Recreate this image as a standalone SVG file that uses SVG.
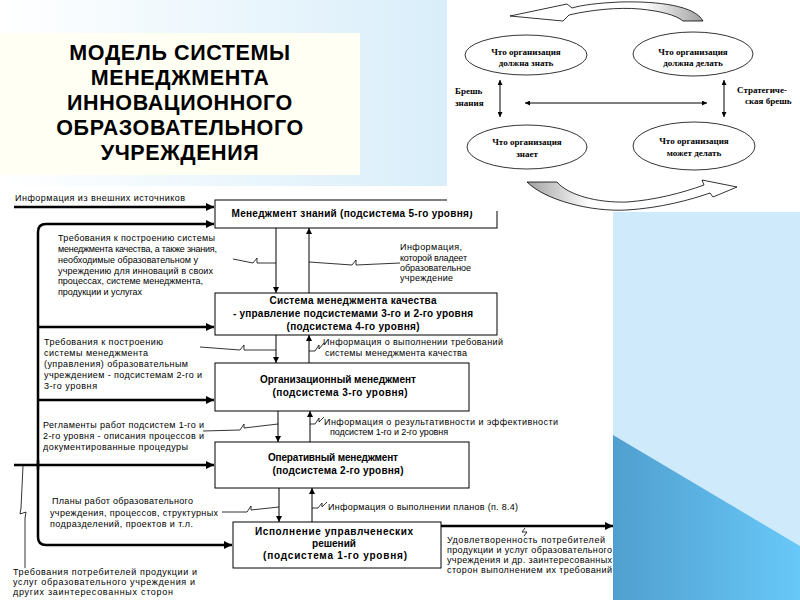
<svg xmlns="http://www.w3.org/2000/svg" width="800" height="600" viewBox="0 0 800 600">
<defs>
<linearGradient id="topbg" x1="0" y1="0" x2="1" y2="0">
<stop offset="0" stop-color="#ffffff"/><stop offset="1" stop-color="#d9eefa"/>
</linearGradient>
<linearGradient id="dark" x1="0" y1="0" x2="1" y2="0">
<stop offset="0" stop-color="#509fcf"/><stop offset="1" stop-color="#68c8f8"/>
</linearGradient>
<linearGradient id="gTop" x1="0" y1="0" x2="1" y2="0">
<stop offset="0" stop-color="#ffffff"/><stop offset="0.7" stop-color="#ffffff"/><stop offset="1" stop-color="#a0a0a0"/>
</linearGradient>
<linearGradient id="gBot" x1="0" y1="0" x2="1" y2="0">
<stop offset="0" stop-color="#a0a0a0"/><stop offset="0.3" stop-color="#ffffff"/><stop offset="1" stop-color="#ffffff"/>
</linearGradient>
<marker id="ahBig" viewBox="0 0 10 10" refX="10" refY="5" markerWidth="9" markerHeight="8" markerUnits="userSpaceOnUse" orient="auto"><path d="M0,0 L10,5 L0,10 z" fill="#000"/></marker>
<marker id="ahSm" viewBox="0 0 10 10" refX="10" refY="5" markerWidth="6" markerHeight="6" markerUnits="userSpaceOnUse" orient="auto"><path d="M0,0 L10,5 L0,10 z" fill="#000"/></marker>
<marker id="ahEl" viewBox="0 0 10 10" refX="10" refY="5" markerWidth="7" markerHeight="5" markerUnits="userSpaceOnUse" orient="auto-start-reverse"><path d="M0,0 L10,5 L0,10 z" fill="#000"/></marker>
<style>
.t{font-family:"Liberation Sans",Arial,sans-serif;font-size:9px;fill:#000}
.b{font-family:"Liberation Sans",Arial,sans-serif;font-size:10px;font-weight:bold;fill:#000;text-anchor:middle}
.ti{font-family:"Liberation Sans",Arial,sans-serif;font-size:21.5px;font-weight:bold;fill:#000;text-anchor:middle;letter-spacing:0.6px}
.s{font-family:"Liberation Serif","Times New Roman",serif;font-size:9px;font-weight:bold;fill:#000}
.sc{text-anchor:middle}
.box{fill:#fff;stroke:#000;stroke-width:1}
.thick{fill:none;stroke:#000;stroke-width:2.5;marker-end:url(#ahBig)}
.thin{fill:none;stroke:#000;stroke-width:1;marker-end:url(#ahSm)}
.zz{fill:none;stroke:#000;stroke-width:0.8}
.el{fill:#fff;stroke:#000;stroke-width:0.8}
.da{fill:none;stroke:#000;stroke-width:1;marker-start:url(#ahEl);marker-end:url(#ahEl)}
</style>
</defs>

<!-- backgrounds -->
<rect x="0" y="0" width="800" height="600" fill="#fff"/>
<rect x="0" y="0" width="447" height="186" fill="url(#topbg)"/>
<rect x="613" y="212" width="187" height="388" fill="#cfeafb"/>
<polygon points="613,435 800,546 800,600 613,600" fill="url(#dark)"/>

<!-- title -->
<g id="title">
<rect x="0" y="33" width="360" height="142" fill="#fffff3"/>
<text class="ti" x="180" y="60">МОДЕЛЬ СИСТЕМЫ</text>
<text class="ti" x="180" y="85">МЕНЕДЖМЕНТА</text>
<text class="ti" x="180" y="110">ИННОВАЦИОННОГО</text>
<text class="ti" x="180" y="135">ОБРАЗОВАТЕЛЬНОГО</text>
<text class="ti" x="180" y="160">УЧРЕЖДЕНИЯ</text>
</g>

<!-- connectors -->
<g id="connectors">
<path class="thick" d="M14,207 L214,207"/>
<path class="thick" d="M38,470 L38,232 Q38,224 46,224 L214,224"/>
<path class="thick" d="M38,327 L214,327"/>
<path class="thick" d="M38,400 L214,400"/>
<path class="thick" d="M14,465 L214,465"/>
<path class="thick" d="M38,460 L38,537 Q38,545 46,545 L232,545"/>
<path class="thick" d="M441,526 L613,526"/>
<path class="thin" d="M276,228 L276,293"/>
<path class="thin" d="M309,293 L309,228"/>
<path class="thin" d="M276,335 L276,363"/>
<path class="thin" d="M309,363 L309,335"/>
<path class="thin" d="M278,411 L278,442"/>
<path class="thin" d="M310,442 L310,411"/>
<path class="thin" d="M279,488 L279,522"/>
<path class="thin" d="M312,522 L312,488"/>
<path class="zz" d="M233,259 L253,263 L257,258 L257,263 L276,263"/>
<path class="zz" d="M309,262 L352,265 L356,260 L356,265 L400,263"/>
<path class="zz" d="M200,347 L240,350 L244,345 L244,350 L276,350"/>
<path class="zz" d="M309,351 L315,351 L319,345 L319,349 L324,343"/>
<path class="zz" d="M203,431 L240,430 L244,424 L244,428 L278,424"/>
<path class="zz" d="M310,424 L315,424 L319,418 L319,422 L324,417"/>
<path class="zz" d="M222,512 L247,512 L251,506 L251,510 L279,507"/>
<path class="zz" d="M312,508 L318,508 L322,503 L322,507 L327,502"/>
<path class="zz" d="M525,528 L522,532 L527,532 L524,536"/>
<path class="zz" d="M23,466 L21,508 L20,514 L26,512 L25,518 L25,568"/>
</g>

<!-- nodes -->
<g id="knowledge">
<rect class="box" x="215" y="200" width="282" height="28"/>
<text class="b" x="352" y="217" textLength="241">Менеджмент знаний (подсистема 5-го уровня)</text>
</g>
<g id="qms">
<rect class="box" x="215" y="293" width="282" height="42"/>
<text class="b" x="353" y="304" textLength="167">Система менеджмента качества</text>
<text class="b" x="353" y="317" textLength="240">- управление подсистемами 3-го и 2-го уровня</text>
<text class="b" x="353" y="330" textLength="133">(подсистема 4-го уровня)</text>
</g>
<g id="org">
<rect class="box" x="215" y="363" width="254" height="48"/>
<text class="b" x="338" y="383">Организационный менеджмент</text>
<text class="b" x="340" y="396" textLength="135">(подсистема 3-го уровня)</text>
</g>
<g id="oper">
<rect class="box" x="215" y="442" width="254" height="46"/>
<text class="b" x="333" y="461" textLength="130">Оперативный менеджмент</text>
<text class="b" x="338" y="474" textLength="131">(подсистема 2-го уровня)</text>
</g>
<g id="exec">
<rect class="box" x="233" y="522" width="208" height="46"/>
<text class="b" x="334" y="535" textLength="158">Исполнение управлченеских</text>
<text class="b" x="334" y="547">решений</text>
<text class="b" x="335" y="559" textLength="144">(подсистема 1-го уровня)</text>
</g>

<!-- labels -->
<g id="labels">
<text class="t" x="15" y="201" textLength="170">Информация из внешних источников</text>
<text class="t" x="58" y="241" textLength="157">Требования к построению системы</text>
<text class="t" x="58" y="252" textLength="159">менеджмента качества, а также знания,</text>
<text class="t" x="58" y="263" textLength="140">необходимые образовательном у</text>
<text class="t" x="58" y="274" textLength="155">учреждению для инноваций в своих</text>
<text class="t" x="58" y="284" textLength="145">процессах, системе менеджмента,</text>
<text class="t" x="58" y="295" textLength="84">продукции и услугах</text>
<text class="t" x="400" y="250" textLength="62">Информация,</text>
<text class="t" x="400" y="261" textLength="67">которой владеет</text>
<text class="t" x="400" y="271" textLength="71">образовательное</text>
<text class="t" x="400" y="281" textLength="53">учреждение</text>
<text class="t" x="44" y="345" textLength="119">Требования к построению</text>
<text class="t" x="44" y="356" textLength="104">системы менеджмента</text>
<text class="t" x="44" y="367" textLength="144">(управления) образовательным</text>
<text class="t" x="44" y="378" textLength="158">учреждением - подсистемам 2-го и</text>
<text class="t" x="44" y="389" textLength="53">3-го уровня</text>
<text class="t" x="323" y="345" textLength="180">Информация о выполнении требований</text>
<text class="t" x="325" y="356" textLength="142">системы менеджмента качества</text>
<text class="t" x="43" y="428" textLength="161">Регламенты работ подсистем 1-го и</text>
<text class="t" x="43" y="439" textLength="161">2-го уровня - описания процессов и</text>
<text class="t" x="43" y="450" textLength="145">документированные процедуры</text>
<text class="t" x="324" y="425" textLength="234">Информация о результативности и эффективности</text>
<text class="t" x="330" y="435" textLength="118">подсистем 1-го и 2-го уровня</text>
<text class="t" x="52" y="504" textLength="141">Планы работ образовательного</text>
<text class="t" x="50" y="516" textLength="168">учреждения, процессов, структурных</text>
<text class="t" x="50" y="527" textLength="143">подразделений, проектов и т.л.</text>
<text class="t" x="328" y="510" textLength="190">Информация о выполнении планов (п. 8.4)</text>
<text class="t" x="13" y="575" textLength="184">Требования потребителей продукции и</text>
<text class="t" x="13" y="585" textLength="182">услуг образовательного учреждения и</text>
<text class="t" x="13" y="595" textLength="160">других заинтересованных сторон</text>
<text class="t" x="447" y="543" textLength="158">Удовлетворенность потребителей</text>
<text class="t" x="447" y="553" textLength="165">продукции и услуг образовательного</text>
<text class="t" x="447" y="563" textLength="165">учреждения и др. заинтересованных</text>
<text class="t" x="447" y="573" textLength="165">сторон выполнением их требований</text>
</g>

<!-- top-right knowledge gap diagram -->
<g id="gap-diagram">
<rect x="447" y="0" width="353" height="211" fill="#fff"/>
<path d="M703,21 C695,6 660,1 620,2 C598,3 582,5 572,8 L567,4 L510,16 L563,21 L569,15 C590,10 618,7 640,9 C660,11 676,15 683,21 Z" fill="url(#gTop)" stroke="#000" stroke-width="0.8"/>
<path d="M527,182 C545,200 590,212 627,210 C660,208 690,200 710,193 L713,197 L737,187 L702,180 L704,185 C682,193 655,200 627,202 C597,203 568,195 557,182 Z" fill="url(#gBot)" stroke="#000" stroke-width="0.8"/>
<g id="e-know-should">
<ellipse class="el" cx="526" cy="55" rx="61" ry="20"/>
<text class="s sc" x="526" y="55">Что организация</text>
<text class="s sc" x="526" y="66">должна знать</text>
</g>
<g id="e-do-should">
<ellipse class="el" cx="693" cy="54" rx="60" ry="22"/>
<text class="s sc" x="693" y="55">Что организация</text>
<text class="s sc" x="693" y="66">должна делать</text>
</g>
<g id="e-knows">
<ellipse class="el" cx="527" cy="147" rx="60" ry="22"/>
<text class="s sc" x="527" y="145">Что организация</text>
<text class="s sc" x="527" y="157">знает</text>
</g>
<g id="e-can">
<ellipse class="el" cx="694" cy="146" rx="61" ry="24"/>
<text class="s sc" x="694" y="144">Что организация</text>
<text class="s sc" x="694" y="156">может делать</text>
</g>
<path class="da" d="M500,80 L500,117"/>
<path class="da" d="M724,80 L724,117"/>
<path class="da" d="M525,103 L707,103"/>
<text class="s" x="455" y="94">Брешь</text>
<text class="s" x="455" y="106">знания</text>
<text class="s" x="737" y="93">Стратегиче-</text>
<text class="s" x="745" y="104">ская брешь</text>
</g>
</svg>
